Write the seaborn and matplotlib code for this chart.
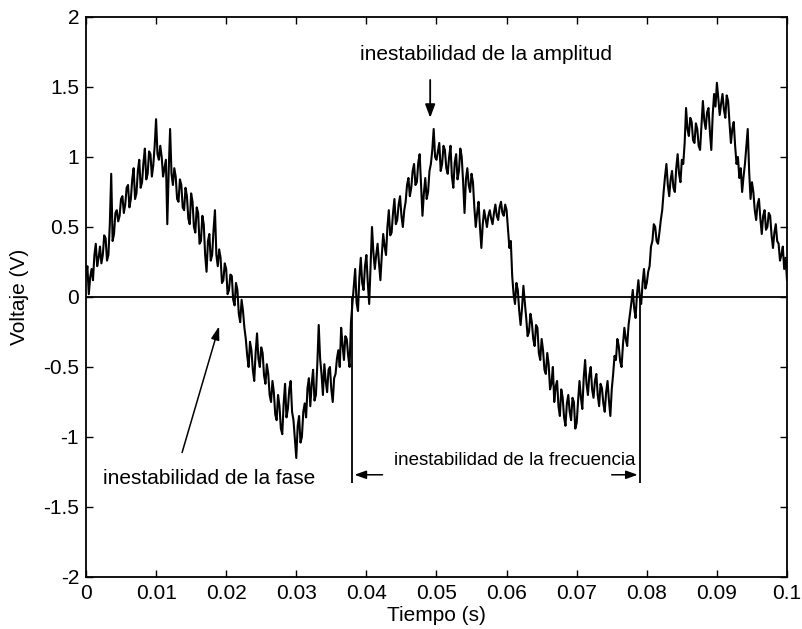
import numpy as np
import pandas as pd
import matplotlib
matplotlib.use("Agg")
import matplotlib.pyplot as plt
import seaborn as sns

# Sampled noisy voltage signal, one sample every 0.2 ms (0 .. 0.1 s)
dt = 0.0002
voltaje = [
    # 0.00 - 0.0098 s
    0.15, 0.22, 0.02, 0.14, 0.20, 0.12, 0.30, 0.38, 0.22, 0.28,
    0.36, 0.24, 0.30, 0.44, 0.42, 0.26, 0.30, 0.52, 0.88, 0.40,
    0.45, 0.60, 0.62, 0.54, 0.58, 0.70, 0.72, 0.60, 0.66, 0.78,
    0.80, 0.64, 0.70, 0.84, 0.92, 0.70, 0.74, 0.90, 0.98, 0.78,
    0.82, 0.96, 1.06, 0.84, 0.88, 1.04, 1.02, 0.86, 0.94, 1.08,
    # 0.01 - 0.0198 s
    1.27, 1.02, 0.98, 1.08, 1.00, 0.86, 0.92, 0.98, 0.52, 0.90,
    1.20, 0.88, 0.80, 0.92, 0.86, 0.70, 0.68, 0.84, 0.80, 0.64,
    0.62, 0.78, 0.72, 0.56, 0.52, 0.74, 0.68, 0.50, 0.46, 0.64,
    0.60, 0.38, 0.40, 0.58, 0.52, 0.30, 0.18, 0.40, 0.45, 0.26,
    0.30, 0.48, 0.62, 0.30, 0.22, 0.34, 0.28, 0.10, 0.12, 0.24,
    # 0.02 - 0.0298 s
    0.20, 0.02, 0.05, 0.16, 0.15, -0.02, -0.06, 0.10, 0.05, -0.12,
    -0.18, -0.02, -0.10, -0.22, -0.30, -0.42, -0.50, -0.32, -0.38, -0.52,
    -0.60, -0.40, -0.26, -0.44, -0.50, -0.36, -0.40, -0.56, -0.62, -0.48,
    -0.55, -0.70, -0.75, -0.60, -0.68, -0.84, -0.88, -0.70, -0.78, -0.94,
    -0.98, -0.76, -0.62, -0.86, -0.80, -0.66, -0.60, -0.82, -0.88, -1.02,
    # 0.03 - 0.0398 s
    -1.15, -0.92, -0.85, -1.04, -1.00, -0.82, -0.76, -0.86, -0.65, -0.58,
    -0.78, -0.62, -0.52, -0.74, -0.70, -0.48, -0.20, -0.44, -0.55, -0.70,
    -0.48, -0.60, -0.68, -0.52, -0.50, -0.66, -0.75, -0.58, -0.55, -0.44,
    -0.38, -0.50, -0.22, -0.34, -0.45, -0.28, -0.30, -0.42, -0.50, -0.18,
    -0.05, 0.08, 0.20, -0.04, -0.10, 0.14, 0.28, 0.10, 0.05, 0.22,
    # 0.04 - 0.0498 s
    0.30, 0.10, -0.05, 0.22, 0.50, 0.32, 0.20, 0.30, 0.38, 0.24,
    0.12, 0.30, 0.45, 0.36, 0.30, 0.50, 0.62, 0.44, 0.46, 0.60,
    0.70, 0.52, 0.55, 0.66, 0.72, 0.58, 0.50, 0.62, 0.68, 0.80,
    0.85, 0.72, 0.78, 0.90, 0.95, 0.80, 0.82, 0.96, 1.02, 0.80,
    0.58, 0.74, 0.85, 0.70, 0.75, 0.90, 0.95, 1.05, 1.20, 1.00,
    # 0.05 - 0.0598 s
    0.98, 1.04, 1.10, 0.90, 0.95, 1.08, 1.05, 0.92, 0.88, 1.00,
    1.08, 0.86, 0.78, 0.96, 1.02, 0.84, 0.90, 1.06, 1.00, 0.82,
    0.60, 0.84, 0.92, 0.80, 0.75, 0.88, 0.82, 0.64, 0.50, 0.60,
    0.68, 0.50, 0.35, 0.52, 0.62, 0.56, 0.50, 0.58, 0.62, 0.56,
    0.52, 0.60, 0.66, 0.58, 0.55, 0.64, 0.68, 0.60, 0.58, 0.66,
    # 0.06 - 0.0698 s
    0.62, 0.48, 0.35, 0.40, 0.15, 0.02, -0.05, 0.10, 0.05, -0.10,
    -0.20, -0.08, 0.08, -0.04, -0.15, -0.28, -0.25, -0.12, -0.18, -0.30,
    -0.35, -0.20, -0.22, -0.40, -0.45, -0.30, -0.38, -0.52, -0.55, -0.40,
    -0.48, -0.66, -0.62, -0.50, -0.75, -0.64, -0.60, -0.78, -0.85, -0.66,
    -0.72, -0.86, -0.92, -0.76, -0.70, -0.82, -0.88, -0.72, -0.75, -0.94,
    # 0.07 - 0.0798 s
    -0.90, -0.74, -0.60, -0.72, -0.80, -0.58, -0.45, -0.62, -0.70, -0.56,
    -0.50, -0.66, -0.72, -0.60, -0.55, -0.70, -0.78, -0.62, -0.65, -0.76,
    -0.82, -0.68, -0.60, -0.74, -0.85, -0.66, -0.55, -0.42, -0.45, -0.30,
    -0.35, -0.46, -0.50, -0.34, -0.22, -0.30, -0.35, -0.20, -0.12, -0.04,
    0.05, -0.08, -0.15, 0.02, 0.12, 0.00, -0.05, 0.10, 0.20, 0.06,
    # 0.08 - 0.0898 s
    0.10, 0.18, 0.22, 0.36, 0.40, 0.52, 0.50, 0.40, 0.38, 0.46,
    0.55, 0.62, 0.75, 0.86, 0.95, 0.80, 0.72, 0.84, 0.90, 0.78,
    0.75, 0.92, 1.02, 0.88, 0.82, 0.98, 0.95, 1.10, 1.35, 1.20,
    1.15, 1.28, 1.25, 1.12, 1.10, 1.24, 1.20, 1.08, 1.05, 1.22,
    1.40, 1.26, 1.20, 1.32, 1.35, 1.18, 1.05, 1.30, 1.45, 1.36,
    # 0.09 - 0.1 s
    1.53, 1.42, 1.30, 1.38, 1.45, 1.34, 1.28, 1.44, 1.40, 1.24,
    1.10, 1.20, 1.25, 1.08, 0.95, 1.00, 0.85, 0.92, 0.75, 0.86,
    0.95, 1.08, 1.20, 0.90, 0.70, 0.82, 0.75, 0.62, 0.55, 0.66,
    0.70, 0.56, 0.45, 0.58, 0.62, 0.48, 0.50, 0.60, 0.58, 0.44,
    0.35, 0.46, 0.52, 0.40, 0.38, 0.26, 0.30, 0.36, 0.20, 0.28,
    0.12,
]
tiempo = [round(i * dt, 4) for i in range(len(voltaje))]

x_ticks = [0, 0.01, 0.02, 0.03, 0.04, 0.05, 0.06, 0.07, 0.08, 0.09, 0.1]
x_labels = ["0", "0.01", "0.02", "0.03", "0.04", "0.05", "0.06", "0.07", "0.08", "0.09", "0.1"]
y_ticks = [-2, -1.5, -1, -0.5, 0, 0.5, 1, 1.5, 2]
y_labels = ["-2", "-1.5", "-1", "-0.5", "0", "0.5", "1", "1.5", "2"]

# Zero crossings bounding one period, and the annotation anchors
t_cruce_1, t_cruce_2 = 0.0379, 0.0791
y_marca = -1.33
y_flecha = -1.27
t_amp, v_amp_tip, v_amp_tail = 0.0491, 1.26, 1.57
fase_tip = (0.0191, -0.19)
fase_tail = (0.0136, -1.13)

df = pd.DataFrame({"Tiempo (s)": tiempo, "Voltaje (V)": voltaje})

sns.set_style("ticks")
plt.rcParams["font.family"] = ["Liberation Sans", "DejaVu Sans"]
plt.rcParams["text.color"] = "black"
plt.rcParams["axes.labelcolor"] = "black"

fig = plt.figure(figsize=(8.02, 6.29), dpi=100)
ax = fig.add_axes([0.1072, 0.0827, 0.8741, 0.8903])

sns.lineplot(data=df, x="Tiempo (s)", y="Voltaje (V)", ax=ax, color="black",
             linewidth=1.5, estimator=None, sort=False)
ax.axhline(0, color="black", linewidth=1.3)

ax.set_xlim(0, 0.1)
ax.set_ylim(-2, 2)
ax.set_xticks(x_ticks)
ax.set_xticklabels(x_labels)
ax.set_yticks(y_ticks)
ax.set_yticklabels(y_labels)
ax.tick_params(direction="in", length=5, width=1, top=True, right=True,
               labelsize=15, colors="black", pad=5)
for s in ax.spines.values():
    s.set_visible(True)
    s.set_linewidth(1.3)
    s.set_color("black")
ax.set_xlabel("Tiempo (s)", fontsize=15, labelpad=2, color="black")
ax.set_ylabel("Voltaje (V)", fontsize=15, labelpad=10, color="black")

# amplitude instability
ax.text(0.0571, 1.73, "inestabilidad de la amplitud", ha="center", va="center",
        fontsize=15, color="black")
ax.annotate("", xy=(t_amp, v_amp_tip), xytext=(t_amp, v_amp_tail),
            arrowprops=dict(arrowstyle="-|>,head_length=0.8,head_width=0.3",
                            color="black", lw=1.3))
# phase instability
ax.text(0.0176, -1.30, "inestabilidad de la fase", ha="center", va="center",
        fontsize=15, color="black")
ax.annotate("", xy=fase_tip, xytext=fase_tail,
            arrowprops=dict(arrowstyle="-|>,head_length=0.8,head_width=0.25",
                            color="black", lw=1.1))
# frequency instability
ax.vlines([t_cruce_1, t_cruce_2], y_marca, 0, color="black", linewidth=1.3)
ax.text(0.0611, -1.17, "inestabilidad de la frecuencia", ha="center", va="center",
        fontsize=13.5, color="black")
ax.annotate("", xy=(t_cruce_1, y_flecha), xytext=(t_cruce_1 + 0.0048, y_flecha),
            arrowprops=dict(arrowstyle="-|>,head_length=0.7,head_width=0.25",
                            color="black", lw=1.1))
ax.annotate("", xy=(t_cruce_2, y_flecha), xytext=(t_cruce_2 - 0.0045, y_flecha),
            arrowprops=dict(arrowstyle="-|>,head_length=0.7,head_width=0.25",
                            color="black", lw=1.1))

fig.savefig("out.png", dpi=100, facecolor="white")
